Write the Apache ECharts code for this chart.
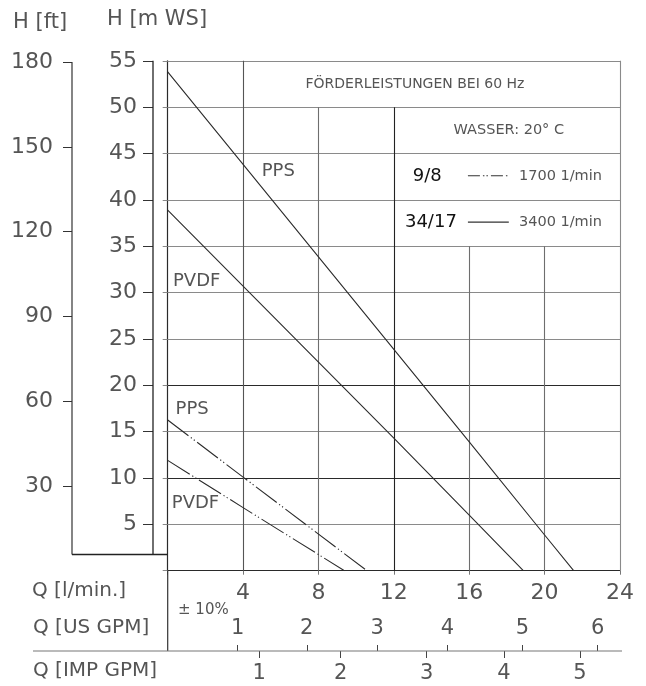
<!DOCTYPE html>
<html><head><meta charset="utf-8">
<script src="https://cdn.jsdelivr.net/npm/echarts@6/dist/echarts.min.js"></script>
<style>html,body{margin:0;padding:0;background:#fff}#c{width:646px;height:686px}</style>
</head><body><div id="c"></div>
<script>
// ---------- data ----------
const qLabelValues = [4, 8, 12, 16, 20, 24];                 // Q [l/min.]
const hLabelValues = [5, 10, 15, 20, 25, 30, 35, 40, 45, 50, 55]; // H [m WS]
const ftLabelValues = [30, 60, 90, 120, 150, 180];          // H [ft]
const usGpmLabels = ['1', '2', '3', '4', '5', '6'];
const usGpmAtQ = [3.71, 7.38, 11.12, 14.84, 18.82, 22.81];   // where they sit on l/min scale
const impGpmLabels = ['1', '2', '3', '4', '5'];
const impGpmAtQ = [4.86, 9.18, 13.74, 17.84, 21.87];
const pps3400 = [[0, 53.8], [16, 13.9], [20, 3.85], [21.54, 0]];
const pvdf3400 = [[0, 38.9], [12, 14.3], [16, 6.0], [18.87, 0]];
const pps1700 = [[0, 16.25], [4, 10.1], [10.57, 0]];
const pvdf1700 = [[0, 11.9], [4, 6.8], [9.38, 0]];
const hGridValues = [0, 5, 10, 15, 20, 25, 30, 35, 40, 45, 50, 55];
const vGridValues = [4, 8, 12, 16, 20, 24];
const vGridTop = [55, 50, 50, 35, 35, 55];   // table cells interrupt some verticals
const leftBoxBottomH = 1.75;                  // bottom of the left H scales
const FT_PER_M = 3.28084;

// ---------- styles ----------
const FONT = 'DejaVu Sans';
const TXT = '#555';
const DARK = '#2a2a2a';
const GRAY = '#8a8a8a';
const G = { left: 167.7, right: 26, top: 60.8, bottom: 115.3 };
const MWS_OFFSET = 14.7, FT_OFFSET = 95.7, GPM_OFFSET = 80.3;

function hColor(h) { return (h === 0 || h === 10 || h === 20) ? DARK : GRAY; }
function vColor(q) { return q === 12 ? '#222' : (q === 4 ? '#555' : (q === 24 ? GRAY : '#6e6e6e')); }
function lookup(vals, labels) {
  return v => { const i = vals.findIndex(x => Math.abs(x - v) < 1e-6); return i >= 0 ? labels[i] : ''; };
}

const gridLines = [];
hGridValues.forEach(h => gridLines.push([{ coord: [0, h], lineStyle: { color: hColor(h), width: 1.1, type: 'solid' } }, { coord: [24, h] }]));
vGridValues.forEach((q, i) => gridLines.push([{ coord: [q, 0], lineStyle: { color: vColor(q), width: 1.1, type: 'solid' } }, { coord: [q, vGridTop[i]] }]));

const dashDot = [26, 3, 1.2, 2.5, 1.2, 3];
function curve(name, data, dashed) {
  return {
    name, type: 'line', data, symbol: 'none', z: 5, silent: true,
    lineStyle: { color: '#2b2b2b', width: 1.1, type: dashed ? dashDot : 'solid' }
  };
}

const chart = echarts.init(document.getElementById('c'), null, { renderer: 'canvas' });
const option = {
  animation: false,
  backgroundColor: '#fff',
  textStyle: { fontFamily: FONT },
  grid: Object.assign({ outerBoundsMode: 'none', containLabel: false }, G),
  xAxis: [
    { type: 'value', min: 0, max: 24, interval: 4, position: 'bottom',
      axisLine: { show: true, onZero: false, lineStyle: { color: DARK, width: 1.2 } },
      axisTick: { show: true, length: 4, lineStyle: { color: '#777' } },
      axisLabel: { customValues: qLabelValues, fontSize: 22, color: TXT, margin: 12, fontFamily: FONT },
      splitLine: { show: false } },
    { type: 'value', min: 0, max: 24, position: 'bottom', offset: GPM_OFFSET,
      axisLine: { show: false, onZero: false },
      axisTick: { show: true, customValues: usGpmAtQ, inside: true, length: 6, lineStyle: { color: '#444' } },
      axisLabel: { customValues: usGpmAtQ, inside: true, margin: 12, fontSize: 21, color: TXT, fontFamily: FONT,
        formatter: lookup(usGpmAtQ, usGpmLabels) },
      splitLine: { show: false } },
    { type: 'value', min: 0, max: 24, position: 'bottom', offset: GPM_OFFSET,
      axisLine: { show: false, onZero: false },
      axisTick: { show: true, customValues: impGpmAtQ, inside: false, length: 7, lineStyle: { color: '#444' } },
      axisLabel: { customValues: impGpmAtQ, inside: false, margin: 12, fontSize: 21, color: TXT, fontFamily: FONT,
        formatter: lookup(impGpmAtQ, impGpmLabels) },
      splitLine: { show: false } }
  ],
  yAxis: [
    { type: 'value', min: 0, max: 55, interval: 5, position: 'left',
      axisLine: { show: true, onZero: false, lineStyle: { color: DARK, width: 1.2 } },
      axisTick: { show: true, length: 5, lineStyle: { color: '#888' } },
      axisLabel: { show: false }, splitLine: { show: false } },
    { type: 'value', min: 0, max: 55, position: 'left', offset: MWS_OFFSET,
      axisLine: { show: false, onZero: false },
      axisTick: { show: true, customValues: hLabelValues, length: 10, lineStyle: { color: '#333' } },
      axisLabel: { customValues: hLabelValues, margin: 16, fontSize: 22, color: TXT, fontFamily: FONT },
      splitLine: { show: false } },
    { type: 'value', min: 0, max: 55 * FT_PER_M, position: 'left', offset: FT_OFFSET,
      axisLine: { show: false, onZero: false },
      axisTick: { show: true, customValues: ftLabelValues, length: 9, lineStyle: { color: '#333' } },
      axisLabel: { customValues: ftLabelValues, margin: 19, fontSize: 22, color: TXT, fontFamily: FONT },
      splitLine: { show: false } }
  ],
  series: [
    { type: 'line', data: [], silent: true, z: 1,
      markLine: { silent: true, symbol: 'none', label: { show: false }, animation: false, data: gridLines } },
    curve('PPS 3400', pps3400, false),
    curve('PVDF 3400', pvdf3400, false),
    curve('PPS 1700', pps1700, true),
    curve('PVDF 1700', pvdf1700, true)
  ]
};
chart.setOption(option);

// ---------- decorations placed through the chart's own scales ----------
const P = (q, h) => chart.convertToPixel({ xAxisIndex: 0, yAxisIndex: 0 }, [q, h]);
const x0 = P(0, 0)[0], y0 = P(0, 0)[1];
const yOf = h => P(0, h)[1];
const xOf = q => P(q, 0)[0];
const xMws = x0 - MWS_OFFSET, xFt = x0 - FT_OFFSET, yBox = yOf(leftBoxBottomH), yGpm = y0 + GPM_OFFSET;

function line(x1, y1, x2, y2, stroke, w, dash) {
  return { type: 'line', silent: true, z: 10, shape: { x1, y1, x2, y2 },
    style: { stroke, lineWidth: w || 1.2, lineDash: dash || null } };
}
function text(t, x, y, size, align, color, weight) {
  return { type: 'text', silent: true, z: 10, x, y,
    style: { text: t, fill: color || TXT, fontSize: size, fontFamily: FONT, fontWeight: weight || 'normal',
      align: align || 'left', verticalAlign: 'middle' } };
}

const g = [
  line(xMws, yOf(55), xMws, yBox, '#222', 1.3),
  line(xFt, yOf(180 / FT_PER_M), xFt, yBox, '#333', 1.2),
  line(xFt, yBox, x0, yBox, '#222', 1.3),
  line(x0, y0, x0, yGpm, '#333', 1.2),
  line(33, yGpm, 622, yGpm, '#777', 1.2),
  text('H [ft]', 13, 23, 21),
  text('H [m WS]', 107, 20, 21),
  text('Q [l/min.]', 32, 591, 20),
  text('Q [US GPM]', 33, 628, 20),
  text('Q [IMP GPM]', 33, 671, 20),
  text('\u00B1 10%', 178, 610, 15),
  text('PPS', xOf(4.99), yOf(43.04), 18),
  text('PVDF', xOf(0.28), yOf(31.2), 18),
  text('PPS', xOf(0.42), yOf(17.37), 18),
  text('PVDF', xOf(0.22), yOf(7.25), 18),
  text('FÖRDERLEISTUNGEN BEI 60 Hz', xOf(13.12), yOf(52.5), 14, 'center'),
  text('WASSER: 20° C', xOf(18.1), yOf(47.5), 14.5, 'center'),
  text('9/8', xOf(13.0), yOf(42.55), 18, 'left', '#111'),
  line(xOf(15.93), yOf(42.6), xOf(18.1), yOf(42.6), '#333', 1.1, [12, 3, 1.5, 2, 1.5, 3]),
  text('1700 1/min', xOf(18.64), yOf(42.55), 14.5),
  text('34/17', xOf(12.59), yOf(37.54), 18, 'left', '#111'),
  line(xOf(15.93), yOf(37.6), xOf(18.1), yOf(37.6), '#333', 1.1),
  text('3400 1/min', xOf(18.64), yOf(37.54), 14.5)
];
chart.setOption({ graphic: { elements: g } });
</script></body></html>
